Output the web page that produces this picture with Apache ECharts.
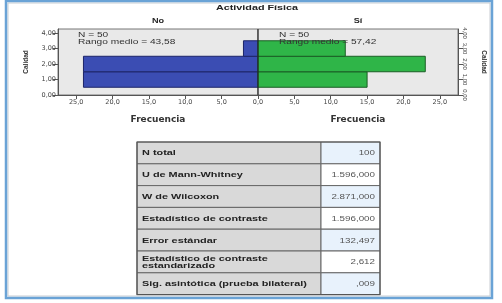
<!DOCTYPE html>
<html>
<head>
<meta charset="utf-8">
<script src="https://cdn.jsdelivr.net/npm/echarts@6/dist/echarts.min.js"></script>
<style>
html,body{margin:0;padding:0;background:#fff;}
#c{width:502px;height:303px;}
</style>
</head>
<body>
<div id="c"></div>
<script>
// ---- data ----
var title = 'Actividad Física';
var groupNames = ['No', 'Sí'];
var calidadLevels = [1, 2, 3];
var freqNo = [24, 24, 2];
var freqSi = [15, 23, 12];
var groupN = [50, 50];
var rangoMedio = ['43,58', '57,42'];
var xTicks = [0, 5, 10, 15, 20, 25];
var yTicks = [0, 1, 2, 3, 4];
var tableLabels = ['N total', 'U de Mann-Whitney', 'W de Wilcoxon', 'Estadístico de contraste',
  'Error estándar', 'Estadístico de contraste\nestandarizado', 'Sig. asintótica (prueba bilateral)'];
var tableValues = ['100', '1.596,000', '2.871,000', '1.596,000', '132,497', '2,612', ',009'];

var FONT = 'Liberation Sans, Arial, sans-serif';
var WIDE = 'DejaVu Sans, sans-serif';
var chart = echarts.init(document.getElementById('c'), null, {renderer: 'canvas'});

function fmtX(v) { return v.toFixed(1).replace('.', ','); }
function fmtY(v) { return (Math.abs(v - Math.round(v)) > 1e-6) ? '' : v.toFixed(2).replace('.', ','); }

function pairs(freq) { return calidadLevels.map(function (c, i) { return [freq[i], c]; }); }

function barRenderer(fill, stroke) {
  return function (params, api) {
    var x = api.value(0), y = api.value(1);
    var p0 = api.coord([0, y - 0.5]);
    var p1 = api.coord([x, y + 0.5]);
    return {
      type: 'rect',
      shape: {x: Math.min(p0[0], p1[0]), y: Math.min(p0[1], p1[1]),
        width: Math.abs(p1[0] - p0[0]), height: Math.abs(p1[1] - p0[1])},
      style: {fill: fill, stroke: stroke, lineWidth: 1}
    };
  };
}

var xMax = 27.5, yMax = 4.26;
function xAxisCfg(idx, inverse, hideMin) {
  return {
    type: 'value', gridIndex: idx, min: 0, max: xMax, interval: 5, inverse: inverse,
    name: 'Frecuencia', nameLocation: 'middle', nameGap: 20,
    nameTextStyle: {fontFamily: WIDE, fontWeight: 'bold', fontSize: 9, color: '#333'},
    axisLine: {show: true, onZero: false, lineStyle: {color: '#555', width: 1}},
    axisTick: {show: true, length: 4, lineStyle: {color: '#555'}},
    axisLabel: {fontFamily: WIDE, fontSize: 6.5, color: '#444', margin: 4,
      showMinLabel: !hideMin, showMaxLabel: false,
      formatter: function (v) { return xTicks.indexOf(v) >= 0 ? fmtX(v) : ''; }},
    splitLine: {show: false}
  };
}
function yAxisCfg(idx, pos) {
  var right = pos === 'right';
  return {
    type: 'value', gridIndex: idx, position: pos, min: 0, max: yMax, interval: 1,
    name: 'Calidad', nameLocation: 'middle', nameGap: right ? 22 : 28, nameRotate: right ? -90 : 90,
    nameTextStyle: {fontFamily: FONT, fontWeight: 'bold', fontSize: 6.5, color: '#333'},
    axisLine: {show: true, onZero: false, lineStyle: {color: '#555', width: 1}},
    axisTick: {show: true, length: 5, lineStyle: {color: '#555'}, customValues: yTicks},
    axisLabel: {fontFamily: right ? FONT : WIDE, fontSize: right ? 6 : 6.5, color: '#444', margin: right ? 4 : 2,
      rotate: right ? -90 : 0, formatter: fmtY, customValues: yTicks},
    splitLine: {show: false}
  };
}

function txt(x, y, s, opt) {
  return {type: 'text', x: x, y: y, scaleX: opt.sx || 1, z: opt.z || 20, style: {
    text: s, fontFamily: opt.font || FONT, fontWeight: opt.bold ? 'bold' : 'normal',
    fontSize: opt.size, lineHeight: opt.lh || opt.size * 1.15, fill: opt.color || '#222',
    textAlign: opt.align || 'left', textVerticalAlign: opt.va || 'middle'}};
}

var graphics = [];
// outer frame
graphics.push({type: 'rect', shape: {x: 6, y: 1, width: 486, height: 297},
  style: {fill: 'none', stroke: '#6aa3d6', lineWidth: 2.5}, z: 100});
graphics.push({type: 'rect', shape: {x: 8, y: 3, width: 482, height: 293},
  style: {fill: 'none', stroke: '#c8cdd2', lineWidth: 1}, z: 99});
// title and panel headers
graphics.push(txt(257, 8, title, {size: 8, bold: true, sx: 1.35, align: 'center'}));
graphics.push(txt(158, 21, groupNames[0], {size: 7, bold: true, sx: 1.3, align: 'center'}));
graphics.push(txt(358, 21, groupNames[1], {size: 7, bold: true, sx: 1.3, align: 'center'}));
// annotations
[78, 279].forEach(function (x, i) {
  graphics.push(txt(x, 31, 'N = ' + groupN[i] + '\nRango medio = ' + rangoMedio[i],
    {size: 7, lh: 7.5, sx: 1.45, va: 'top', color: '#333', z: 50}));
});
// table
var tX0 = 137, tX1 = 380, tXv = 321, tY0 = 142, rowH = 21.8;
tableLabels.forEach(function (lab, i) {
  var y = tY0 + i * rowH;
  graphics.push({type: 'rect', shape: {x: tX0, y: y, width: tXv - tX0, height: rowH},
    style: {fill: '#d9d9d9', stroke: '#666', lineWidth: 1}});
  graphics.push({type: 'rect', shape: {x: tXv, y: y, width: tX1 - tXv, height: rowH},
    style: {fill: (i % 2 === 0) ? '#e8f2fc' : '#ffffff', stroke: '#666', lineWidth: 1}});
  graphics.push(txt(tX0 + 5, y + rowH / 2 + 0.5, lab, {size: 7.5, lh: 7, bold: true, sx: 1.45, color: '#222'}));
  graphics.push(txt(tX1 - 5, y + rowH / 2 + 0.5, tableValues[i], {size: 7, sx: 1.4, align: 'right', color: '#555'}));
});
graphics.push({type: 'rect', shape: {x: tX0, y: tY0, width: tX1 - tX0, height: rowH * tableLabels.length},
  style: {fill: 'none', stroke: '#555', lineWidth: 1.2}, z: 10});

var option = {
  animation: false,
  backgroundColor: '#ffffff',
  grid: [
    {left: 58, top: 29, width: 200, height: 66, show: true, backgroundColor: '#e9e9e9', borderColor: '#777', borderWidth: 1},
    {left: 258, top: 29, width: 200, height: 66, show: true, backgroundColor: '#e9e9e9', borderColor: '#777', borderWidth: 1}
  ],
  xAxis: [xAxisCfg(0, true, false), xAxisCfg(1, false, true)],
  yAxis: [yAxisCfg(0, 'left'), yAxisCfg(1, 'right')],
  series: [
    {type: 'custom', xAxisIndex: 0, yAxisIndex: 0, data: pairs(freqNo),
      renderItem: barRenderer('#3b4db3', '#1c2468'), encode: {x: 0, y: 1}},
    {type: 'custom', xAxisIndex: 1, yAxisIndex: 1, data: pairs(freqSi),
      renderItem: barRenderer('#2fb548', '#1a5e25'), encode: {x: 0, y: 1}}
  ],
  graphic: graphics
};
chart.setOption(option);
// central zero line
var zx = chart.convertToPixel({xAxisIndex: 1}, 0);
chart.setOption({graphic: graphics.concat([{type: 'line', z: 60,
  shape: {x1: zx, y1: 29, x2: zx, y2: 95}, style: {stroke: '#222', lineWidth: 1}}])});
</script>
</body>
</html>
